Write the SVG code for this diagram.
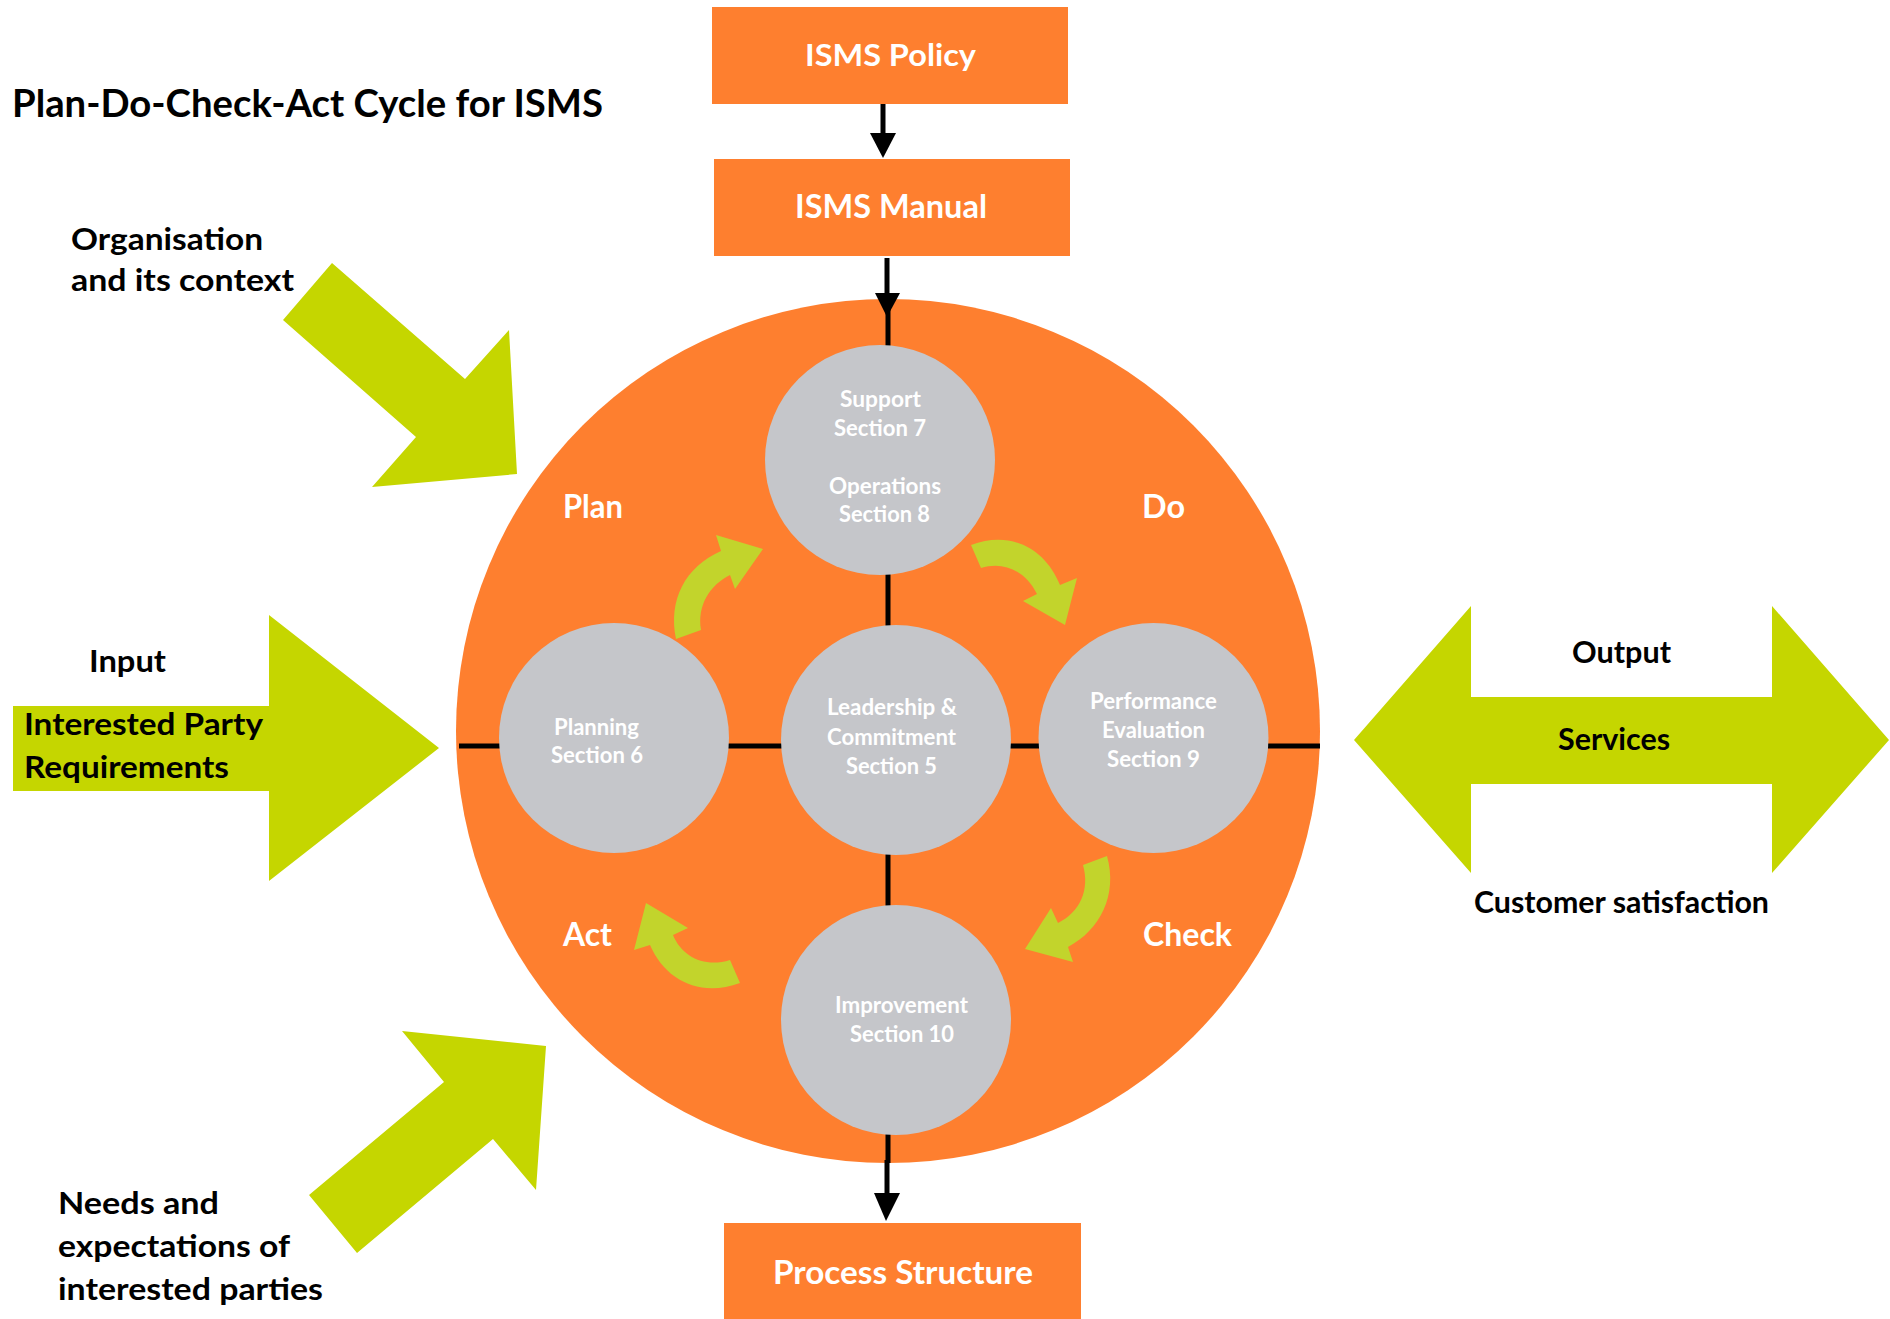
<svg xmlns="http://www.w3.org/2000/svg" width="1890" height="1319" viewBox="0 0 1890 1319">
<style>
.box{fill:#FE7F2F}
.wt{fill:#FFFFFF;font-family:Lato,"Liberation Sans",sans-serif;font-weight:700}
.bt{fill:#000000;font-family:Lato,"Liberation Sans",sans-serif;font-weight:700}
.ct{fill:#FFFFFF;font-family:Lato,"Liberation Sans",sans-serif;font-weight:700;font-size:22px}
.gc{fill:#C5C6CA}
.big{fill:#C5D600}
.cur{fill:#C2D42C}
.ln{stroke:#000;stroke-width:5;fill:none}
.ah{fill:#000}
</style>
<rect width="1890" height="1319" fill="#FFFFFF"/>

<g id="title">
<text class="bt" x="12" y="117" font-size="38" textLength="591" lengthAdjust="spacingAndGlyphs">Plan-Do-Check-Act Cycle for ISMS</text>
</g>

<g id="cycle-background">
<circle cx="888" cy="731" r="432" fill="#FE7F2F"/>
</g>

<g id="connectors">
<line class="ln" x1="459" y1="746" x2="1320" y2="746"/>
<line class="ln" x1="888" y1="300" x2="888" y2="1163"/>
<line class="ln" x1="883" y1="104" x2="883" y2="136"/>
<polygon class="ah" points="870,133 896,133 883,158"/>
<line class="ln" x1="887" y1="258" x2="887" y2="296"/>
<polygon class="ah" points="875,293 900,293 887,317"/>
<line class="ln" x1="887" y1="1160" x2="887" y2="1196"/>
<polygon class="ah" points="874,1193 900,1193 886,1221"/>
</g>

<g id="isms-policy">
<rect class="box" x="712" y="7" width="356" height="97"/>
<text class="wt" x="805" y="66" font-size="31" textLength="171" lengthAdjust="spacingAndGlyphs">ISMS Policy</text>
</g>
<g id="isms-manual">
<rect class="box" x="714" y="159" width="356" height="97"/>
<text class="wt" x="795" y="218" font-size="32" textLength="192" lengthAdjust="spacingAndGlyphs">ISMS Manual</text>
</g>
<g id="process-structure">
<rect class="box" x="724" y="1223" width="357" height="96"/>
<text class="wt" x="773" y="1284" font-size="33" textLength="260" lengthAdjust="spacingAndGlyphs">Process Structure</text>
</g>

<g id="phase-labels">
<text class="wt" x="563" y="518" font-size="32" textLength="60" lengthAdjust="spacingAndGlyphs">Plan</text>
<text class="wt" x="1142" y="518" font-size="32" textLength="43" lengthAdjust="spacingAndGlyphs">Do</text>
<text class="wt" x="563" y="946" font-size="32" textLength="49" lengthAdjust="spacingAndGlyphs">Act</text>
<text class="wt" x="1143" y="946" font-size="32" textLength="89" lengthAdjust="spacingAndGlyphs">Check</text>
</g>

<g id="cycle-arrows">
<path class="cur" d="M676,639 C668,600 685,567 721,551 L716,535 L763,549 L735,589 L730,575 C710,585 697,605 701,630 Z"/>
<path class="cur" d="M971,545 C1010,530 1045,548 1060,585 L1077,578 L1065,625 L1023,601 L1037,594 C1025,570 1003,561 981,568 Z"/>
<path class="cur" d="M1107,856 C1118,895 1100,930 1068,947 L1073,962 L1025,949 L1051,908 L1058,923 C1080,912 1090,890 1083,865 Z"/>
<path class="cur" d="M740,983 C700,998 665,980 650,945 L634,950 L646,903 L688,928 L673,935 C682,957 705,968 730,960 Z"/>
</g>

<g id="support-operations">
<circle class="gc" cx="880" cy="460" r="115"/>
<text class="ct" x="840" y="407" textLength="81" lengthAdjust="spacingAndGlyphs">Support</text>
<text class="ct" x="834" y="436" textLength="92" lengthAdjust="spacingAndGlyphs">Section 7</text>
<text class="ct" x="829" y="494" textLength="112" lengthAdjust="spacingAndGlyphs">Operations</text>
<text class="ct" x="839" y="522" textLength="91" lengthAdjust="spacingAndGlyphs">Section 8</text>
</g>
<g id="planning">
<circle class="gc" cx="614" cy="738" r="115"/>
<text class="ct" x="554" y="735" textLength="85" lengthAdjust="spacingAndGlyphs">Planning</text>
<text class="ct" x="551" y="763" textLength="92" lengthAdjust="spacingAndGlyphs">Section 6</text>
</g>
<g id="leadership">
<circle class="gc" cx="896" cy="740" r="115"/>
<text class="ct" x="827" y="715" textLength="130" lengthAdjust="spacingAndGlyphs">Leadership &amp;</text>
<text class="ct" x="827" y="745" textLength="129" lengthAdjust="spacingAndGlyphs">Commitment</text>
<text class="ct" x="846" y="774" textLength="91" lengthAdjust="spacingAndGlyphs">Section 5</text>
</g>
<g id="performance-evaluation">
<circle class="gc" cx="1153.5" cy="738" r="115"/>
<text class="ct" x="1090" y="709" textLength="127" lengthAdjust="spacingAndGlyphs">Performance</text>
<text class="ct" x="1102" y="738" textLength="103" lengthAdjust="spacingAndGlyphs">Evaluation</text>
<text class="ct" x="1107" y="767" textLength="93" lengthAdjust="spacingAndGlyphs">Section 9</text>
</g>
<g id="improvement">
<circle class="gc" cx="896" cy="1020" r="115"/>
<text class="ct" x="835" y="1013" textLength="133" lengthAdjust="spacingAndGlyphs">Improvement</text>
<text class="ct" x="850" y="1042" textLength="104" lengthAdjust="spacingAndGlyphs">Section 10</text>
</g>

<g id="organisation-context">
<polygon class="big" points="332,263 465,379 509,330 517,474 372,487 416,437 283,320"/>
<text class="bt" x="71" y="250" font-size="31" textLength="192" lengthAdjust="spacingAndGlyphs">Organisation</text>
<text class="bt" x="71" y="291" font-size="31" textLength="223" lengthAdjust="spacingAndGlyphs">and its context</text>
</g>

<g id="input">
<polygon class="big" points="13,706 269,706 269,615 439,748 269,881 269,791 13,791"/>
<text class="bt" x="89" y="672" font-size="31" textLength="77" lengthAdjust="spacingAndGlyphs">Input</text>
<text class="bt" x="24" y="735" font-size="30" textLength="239" lengthAdjust="spacingAndGlyphs">Interested Party</text>
<text class="bt" x="24" y="778" font-size="30" textLength="205" lengthAdjust="spacingAndGlyphs">Requirements</text>
</g>

<g id="needs-expectations">
<polygon class="big" points="402,1031 546,1046 536,1190 493,1139 357,1253 309,1195 444,1082"/>
<text class="bt" x="58" y="1214" font-size="31" textLength="161" lengthAdjust="spacingAndGlyphs">Needs and</text>
<text class="bt" x="58" y="1257" font-size="31" textLength="232" lengthAdjust="spacingAndGlyphs">expectations of</text>
<text class="bt" x="58" y="1300" font-size="31" textLength="265" lengthAdjust="spacingAndGlyphs">interested parties</text>
</g>

<g id="output">
<polygon class="big" points="1354,740 1471,606 1471,697 1772,697 1772,606 1889,740 1772,873 1772,784 1471,784 1471,873"/>
<text class="bt" x="1572" y="663" font-size="30" textLength="99" lengthAdjust="spacingAndGlyphs">Output</text>
<text class="bt" x="1558" y="750" font-size="30" textLength="112" lengthAdjust="spacingAndGlyphs">Services</text>
<text class="bt" x="1474" y="913" font-size="30" textLength="295" lengthAdjust="spacingAndGlyphs">Customer satisfaction</text>
</g>
</svg>
